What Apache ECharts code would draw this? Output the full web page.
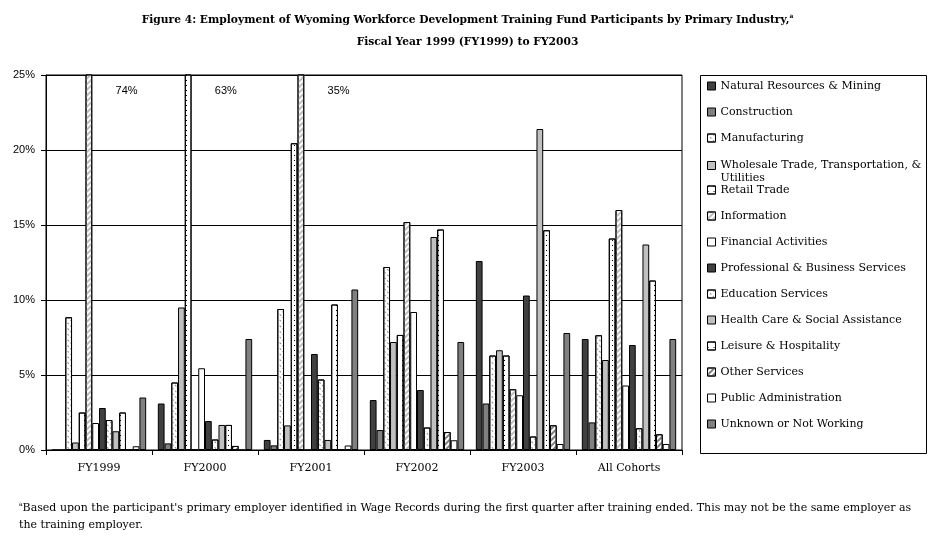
<!DOCTYPE html>
<html>
<head>
<meta charset="utf-8">
<script src="https://cdn.jsdelivr.net/npm/echarts@6/dist/echarts.min.js"></script>
<style>html,body{margin:0;padding:0;background:#fff}#c{width:935px;height:544px}</style>
</head>
<body>
<div id="c"></div>
<script>
// ---- data ----
const categories = ['FY1999', 'FY2000', 'FY2001', 'FY2002', 'FY2003', 'All Cohorts'];
const seriesNames = [
  'Natural Resources & Mining', 'Construction', 'Manufacturing',
  'Wholesale Trade, Transportation, & Utilities', 'Retail Trade', 'Information',
  'Financial Activities', 'Professional & Business Services', 'Education Services',
  'Health Care & Social Assistance', 'Leisure & Hospitality', 'Other Services',
  'Public Administration', 'Unknown or Not Working'
];
const natRes        = [0,    3.1,  0.67, 3.33, 12.6, 7.4];
const construction  = [0,    0.44, 0.31, 1.33, 3.1,  1.84];
const manufacturing = [8.85, 4.5,  9.4,  12.2, 6.3,  7.65];
const wholesale     = [0.5,  9.5,  1.64, 7.2,  6.65, 6.0];
const retail        = [2.5,  63,   20.45, 7.67, 6.3, 14.1];
const information   = [74,   0,    35,   15.2, 4.05, 16.0];
const financial     = [1.8,  5.45, 0,    9.2,  3.65, 4.3];
const professional  = [2.8,  1.93, 6.4,  4.0,  10.3, 7.0];
const education     = [2.0,  0.7,  4.7,  1.5,  0.9,  1.45];
const health        = [1.25, 1.67, 0.67, 14.2, 21.4, 13.7];
const leisure       = [2.5,  1.67, 9.7,  14.7, 14.65, 11.3];
const otherServices = [0,    0.27, 0,    1.2,  1.65, 1.05];
const publicAdmin   = [0.25, 0,    0.3,  0.65, 0.4,  0.4];
const unknown       = [3.5,  7.4,  10.7, 7.2,  7.8,  7.4];
const yTicks = [0, 5, 10, 15, 20, 25];

const values = [natRes, construction, manufacturing, wholesale, retail, information,
  financial, professional, education, health, leisure, otherServices, publicAdmin, unknown];

// ---- styles ----
const SERIF = '"DejaVu Serif", serif';
const SANS = '"Liberation Sans", Arial, sans-serif';
const hatch = {symbol: 'rect', symbolSize: 1, rotation: Math.PI / 4, dashArrayX: [2, 2], dashArrayY: [1, 3], color: '#8a8a8a'};
const dots = {symbol: 'rect', symbolSize: 1, dashArrayX: [1, 5], dashArrayY: [1, 4], color: '#000'};
const stripesLight = {symbol: 'rect', symbolSize: 1, rotation: -Math.PI / 4, dashArrayX: [1, 0], dashArrayY: [2, 2], color: '#bdbdbd'};
const stripesMid = {symbol: 'rect', symbolSize: 1, rotation: -Math.PI / 4, dashArrayX: [1, 0], dashArrayY: [2, 2], color: '#808080'};
const fills = [
  {c: '#404040'}, {c: '#808080'}, {c: '#fff', d: hatch}, {c: '#c0c0c0'},
  {c: '#fff', d: dots}, {c: '#fff', d: stripesLight}, {c: '#fff'}, {c: '#404040'},
  {c: '#fff', d: hatch}, {c: '#c0c0c0'}, {c: '#fff', d: dots}, {c: '#fff', d: stripesMid},
  {c: '#fff'}, {c: '#808080'}
];

const series = seriesNames.map((name, si) => ({
  name: name,
  type: 'bar',
  barGap: '0%',
  barCategoryGap: '11%',
  clip: true,
  itemStyle: {color: fills[si].c, borderColor: '#000', borderWidth: 1, decal: fills[si].d || null},
  emphasis: {disabled: true},
  data: values[si].map(v => v > 25 ? {
    value: v,
    label: {show: true, formatter: v + '%', position: [30, 11], fontFamily: SANS, fontSize: 11, color: '#000'}
  } : v)
}));

const legendCommon = {
  orient: 'vertical', left: 707, padding: 0, icon: 'rect', itemWidth: 8, itemHeight: 8, itemGap: 13,
  selectedMode: false,
  textStyle: {fontFamily: SERIF, fontSize: 11, color: '#000', lineHeight: 13,
    rich: {
      l1: {fontFamily: SERIF, fontSize: 11, color: '#000', lineHeight: 26},
      l2: {fontFamily: SERIF, fontSize: 11, color: '#000', lineHeight: 1}
    }},
  itemStyle: {borderColor: '#000', borderWidth: 1}
};

const chart = echarts.init(document.getElementById('c'), null, {renderer: 'canvas'});
chart.setOption({
  animation: false,
  backgroundColor: '#fff',
  title: [{
    text: 'Figure 4: Employment of Wyoming Workforce Development Training Fund Participants by Primary Industry,{sup|a}\nFiscal Year 1999 (FY1999) to FY2003',
    left: 'center', top: 9, padding: 0,
    textStyle: {fontFamily: SERIF, fontWeight: 'bold', fontSize: 10.7, color: '#000', lineHeight: 22,
      rich: {sup: {fontFamily: SERIF, fontSize: 6, lineHeight: 22, padding: [0, 0, 8, 0]}}}
  }, {
    text: '{sup|a}Based upon the participant\'s primary employer identified in Wage Records during the first quarter after training ended. This may not be the same employer as\nthe training employer.',
    left: 19, top: 500, padding: 0,
    textStyle: {fontFamily: SERIF, fontWeight: 'normal', fontSize: 11, color: '#000', lineHeight: 17,
      rich: {sup: {fontFamily: SERIF, fontSize: 6, lineHeight: 17, padding: [0, 0, 8, 0]}}}
  }],
  legend: [
    Object.assign({}, legendCommon, {top: 79.5, data: seriesNames.slice(0, 3)}),
    Object.assign({}, legendCommon, {top: 152, data: [seriesNames[3]],
      formatter: () => '{l1|Wholesale Trade, Transportation, &}\n{l2|Utilities}'}),
    Object.assign({}, legendCommon, {top: 183.5, data: seriesNames.slice(4)})
  ],
  graphic: [{type: 'rect', left: 698, top: 73, shape: {width: 226, height: 378}, style: {fill: 'none', stroke: '#000', lineWidth: 1}, silent: true, z: -1}],
  grid: {left: 46, right: 253, top: 75, bottom: 94, show: true, borderColor: '#000', borderWidth: 1, containLabel: false},
  xAxis: {
    type: 'category', data: categories,
    axisLine: {lineStyle: {color: '#000', width: 1}},
    axisTick: {show: true, length: 5, lineStyle: {color: '#000'}},
    axisLabel: {fontFamily: SERIF, fontSize: 11, color: '#000', margin: 13}
  },
  yAxis: {
    type: 'value', min: 0, max: 25, interval: 5,
    axisLine: {show: true, lineStyle: {color: '#000', width: 1}},
    axisTick: {show: true, length: 5, lineStyle: {color: '#000'}},
    splitLine: {show: true, lineStyle: {color: '#000', width: 1}},
    axisLabel: {fontFamily: SANS, fontSize: 11, color: '#000', margin: 11,
      formatter: v => yTicks.indexOf(v) >= 0 ? v + '%' : ''}
  },
  series: series
});
</script>
</body>
</html>
